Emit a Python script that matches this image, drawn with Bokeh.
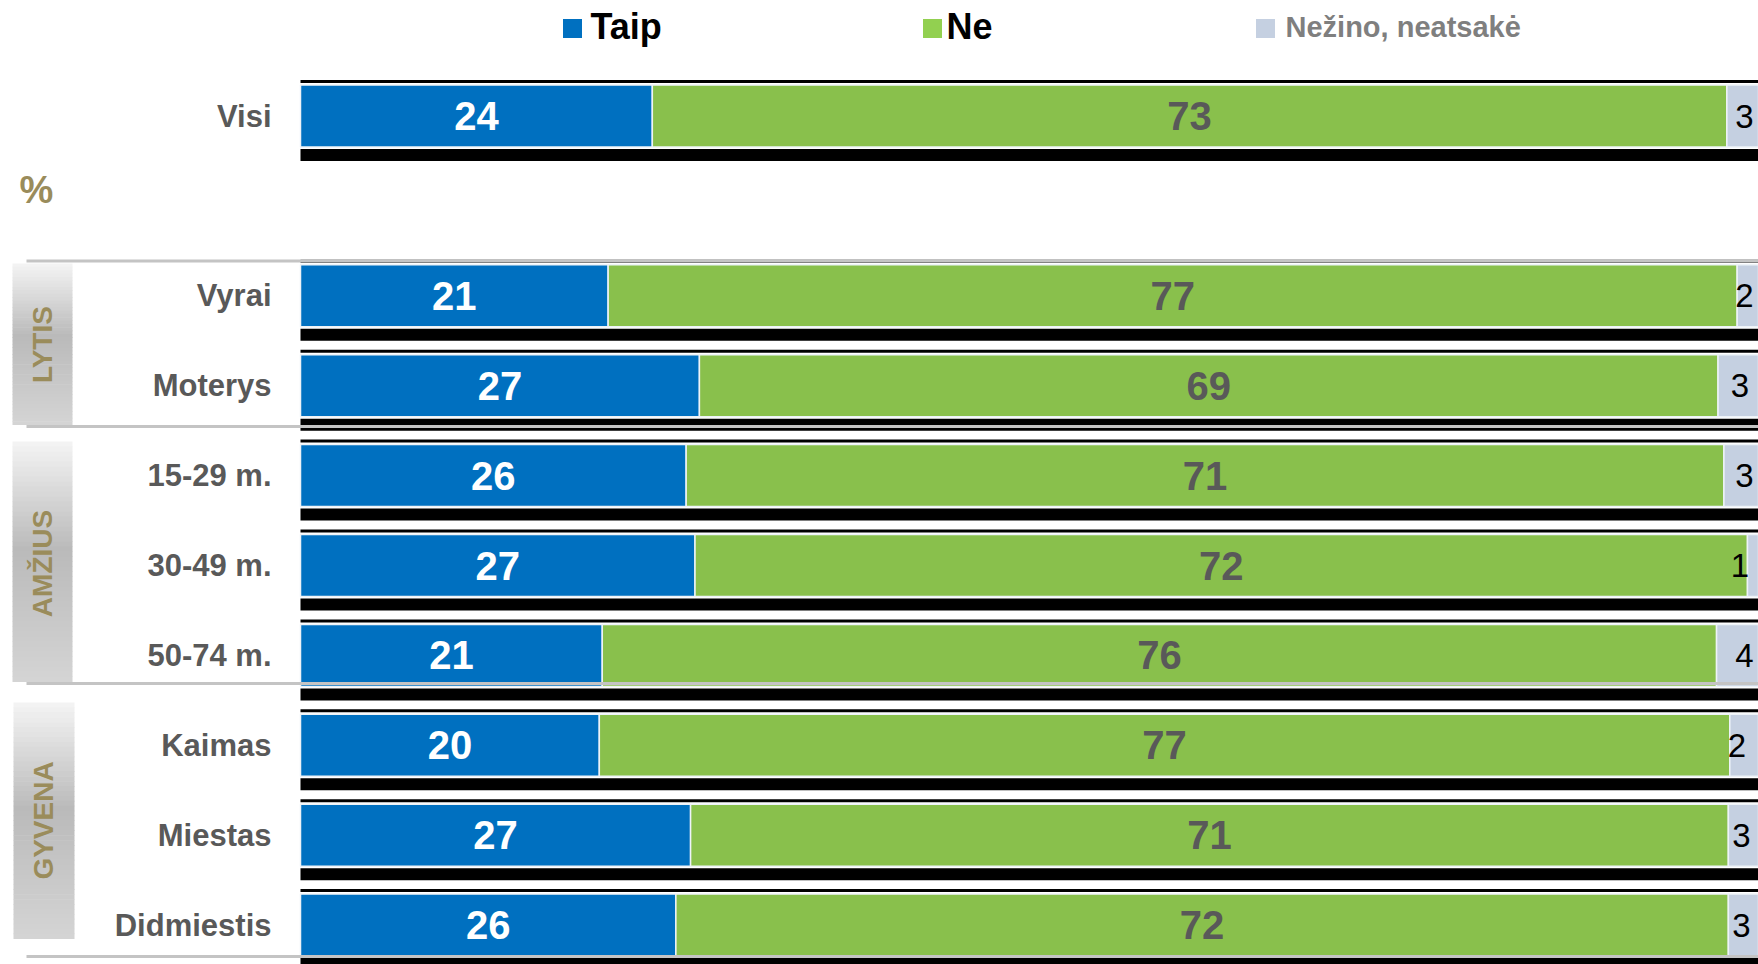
import math
from bokeh.plotting import figure
from bokeh.models import ColumnDataSource, Range1d
from bokeh.core.properties import value
from bokeh.embed import file_html
from bokeh.resources import INLINE

# ---------------- data ----------------
categories = ["Visi", "Vyrai", "Moterys", "15-29 m.", "30-49 m.", "50-74 m.",
              "Kaimas", "Miestas", "Didmiestis"]
taip = [23.9, 20.9, 27.1, 26.2, 26.8, 20.5, 20.3, 26.5, 25.5]
ne = [73.0, 76.7, 69.2, 70.5, 71.5, 75.7, 76.8, 70.5, 71.5]
nezino = [3.1, 2.4, 3.4, 3.3, 1.4, 3.8, 2.4, 2.8, 2.8]
series_names = ["Taip", "Ne", "Nežino, neatsakė"]
group_names = ["LYTIS", "AMŽIUS", "GYVENA"]
group_members = [["Vyrai", "Moterys"],
                 ["15-29 m.", "30-49 m.", "50-74 m."],
                 ["Kaimas", "Miestas", "Didmiestis"]]

# ---------------- layout helpers ----------------
FIG_W, FIG_H, OFF = 1758, 964, 0
X0, PXP = 300.0, 14.72          # screen x of 0 %, pixels per %
R0, RPX = 115.5, 89.9           # screen y of first row, pixels per row


def sx(px):
    return (px - X0) / PXP


def sy(py):
    return (py - R0) / RPX


def lab(v):
    return "%d" % int(v + 0.5)


# rows: "Visi" first, one empty row, then the groups
rows = [0]
r = 2
for members in group_members:
    for _ in members:
        rows.append(r)
        r += 1

BLUE, GREEN, GREY = "#0070C0", "#89C04C", "#C5D0E1"
OLIVE = "#9A8C5B"
FONT = value("Liberation Sans")

p = figure(width=FIG_W, height=FIG_H,
           x_range=Range1d(sx(OFF), sx(OFF + FIG_W)),
           y_range=Range1d(sy(OFF + FIG_H), sy(OFF)),
           x_axis_type=None, y_axis_type=None,
           output_backend="svg", toolbar_location=None, min_border=0)
p.grid.visible = False
p.outline_line_color = None
p.background_fill_color = "white"
p.border_fill_color = "white"

# ---------------- gradient group boxes ----------------
box_px = [(12, 72, 263, 424), (12, 72, 441, 681), (13, 74, 702, 938)]
stops = [(0.0, 0xF4), (0.45, 0xBA), (1.0, 0xD5)]


def shade(t):
    for (t0, c0), (t1, c1) in zip(stops[:-1], stops[1:]):
        if t <= t1:
            c = c0 + (c1 - c0) * (t - t0) / (t1 - t0)
            c = int(round(c))
            return "#%02x%02x%02x" % (c, c, c)
    c = stops[-1][1]
    return "#%02x%02x%02x" % (c, c, c)


N = 48
ql, qr, qt, qb, qc = [], [], [], [], []
for (x0, x1, y0, y1) in box_px:
    h = (y1 - y0) / N
    for i in range(N):
        ql.append(sx(x0)); qr.append(sx(x1))
        qt.append(sy(y0 + i * h)); qb.append(sy(y0 + (i + 1) * h + 0.6))
        qc.append(shade((i + 0.5) / N))
p.quad(left=ql, right=qr, top=qt, bottom=qb, fill_color=qc, line_color=None)

# ---------------- bars ----------------
left_ne = [a for a in taip]
right_ne = [a + b for a, b in zip(taip, ne)]
right_all = [a + b + c for a, b, c in zip(taip, ne, nezino)]
zeros = [0] * len(categories)

src = ColumnDataSource(dict(y=rows, cat=categories, taip=taip, ne=ne, nez=nezino,
                            zero=zeros, l_ne=left_ne, r_ne=right_ne, r_all=right_all,
                            thin_y=[v - 34.5 / RPX for v in rows],
                            band_y=[v + 39.0 / RPX for v in rows],
                            taip_mid=[a / 2 for a in taip],
                            ne_mid=[a + b / 2 for a, b in zip(taip, ne)],
                            lab_taip=[lab(v) for v in taip],
                            lab_ne=[lab(v) for v in ne],
                            lab_nez=[lab(v) for v in nezino]))

# dark frame lines above / below each bar
p.hbar(y="thin_y", height=3.0 / RPX, left="zero", right="r_all", source=src,
       fill_color="black", line_color=None)
p.hbar(y="band_y", height=12.0 / RPX, left="zero", right="r_all", source=src,
       fill_color="black", line_color=None)

bh = 62.0 / RPX
p.hbar(y="y", height=bh, left="zero", right="taip", source=src,
       fill_color=BLUE, line_color="#EEF3F8", line_width=1.5)
p.hbar(y="y", height=bh, left="l_ne", right="r_ne", source=src,
       fill_color=GREEN, line_color="#EEF3F8", line_width=1.5)
p.hbar(y="y", height=bh, left="r_ne", right="r_all", source=src,
       fill_color=GREY, line_color="#EEF3F8", line_width=1.5)

# ---------------- separator lines ----------------
sep_px = [(26, 260.5), (26, 426), (26, 683), (26, 956)]
p.segment(x0=[sx(a) for a, _ in sep_px], x1=[max(right_all) + 5] * len(sep_px),
          y0=[sy(b) for _, b in sep_px], y1=[sy(b) for _, b in sep_px],
          line_color="#C4C4C4", line_width=3)

# ---------------- texts ----------------
p.text(x=sx(271), y="y", text="cat", source=src, text_align="right",
       text_baseline="middle", text_font=FONT, text_font_size="31px",
       text_font_style="bold", text_color="#595959")
p.text(x="taip_mid", y="y", text="lab_taip", source=src, text_align="center",
       text_baseline="middle", text_font=FONT, text_font_size="40px",
       text_font_style="bold", text_color="white")
p.text(x="ne_mid", y="y", text="lab_ne", source=src, text_align="center",
       text_baseline="middle", text_font=FONT, text_font_size="40px",
       text_font_style="bold", text_color="#595959")
p.text(x="r_all", y="y", text="lab_nez", source=src, text_align="right",
       x_offset=-19, text_baseline="middle", text_font=FONT,
       text_font_size="33px", text_color="black")

# "%" marker
p.text(x=[sx(36)], y=[sy(189)], text=["%"], text_align="center",
       text_baseline="middle", text_font=FONT, text_font_size="38px",
       text_font_style="bold", text_color=OLIVE)

# rotated group labels
g_center_px = [(42, 344), (42, 563), (43, 820)]
p.text(x=[sx(a) for a, _ in g_center_px], y=[sy(b) for _, b in g_center_px],
       text=group_names, angle=math.pi / 2, text_align="center",
       text_baseline="middle", text_font=FONT, text_font_size="28px",
       text_font_style="bold", text_color=OLIVE)

# legend (drawn manually to match the original)
sq_px = [(572, 28), (932, 28), (1265, 28)]
p.rect(x=[sx(a) for a, _ in sq_px], y=[sy(b) for _, b in sq_px],
       width=19, height=19, width_units="screen", height_units="screen",
       fill_color=[BLUE, "#92D050", GREY], line_color=None)
lt_px = [(590, 26, "36px", "black"), (946, 26, "36px", "black"),
         (1285, 26, "29px", "#7F7F7F")]
for (a, b, fs, col), name in zip(lt_px, series_names):
    p.text(x=[sx(a)], y=[sy(b)], text=[name], text_align="left",
           text_baseline="middle", text_font=FONT, text_font_size=fs,
           text_font_style="bold", text_color=col)

open("out.html", "w").write(file_html(p, INLINE))
